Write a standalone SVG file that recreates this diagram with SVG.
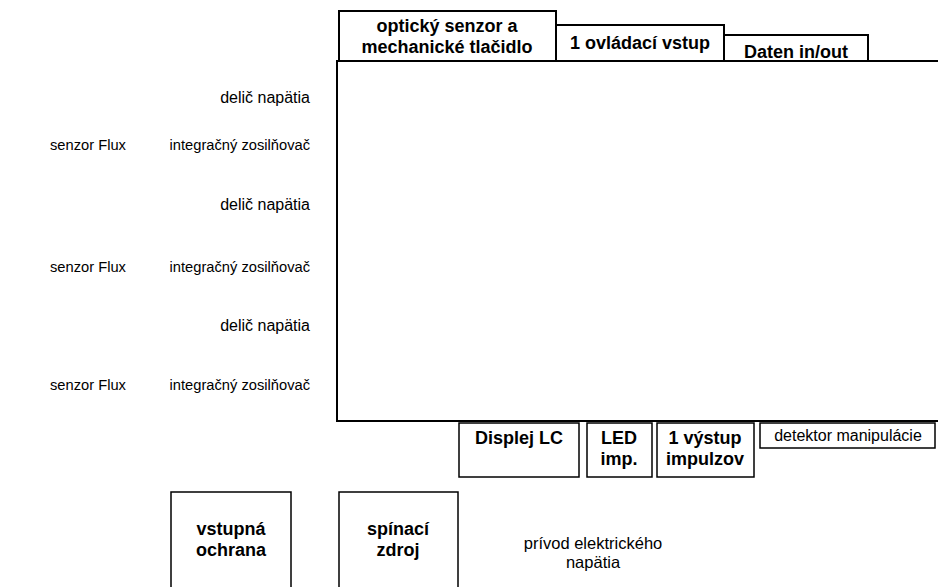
<svg xmlns="http://www.w3.org/2000/svg" width="938" height="587" viewBox="0 0 938 587">
<style>
.box{fill:#fff;stroke:#000;stroke-width:2}
.thin{fill:#fff;stroke:#000;stroke-width:1.5}
.b{font-family:"Liberation Sans",Arial,sans-serif;font-weight:bold;font-size:18px;text-anchor:middle;fill:#000}
.r{font-family:"Liberation Sans",Arial,sans-serif;font-size:14.7px;fill:#000}
.d{font-size:16px}
.m{text-anchor:middle}
.e{text-anchor:end}
</style>
<rect width="938" height="587" fill="#fff"/>
<g id="main"><rect class="box" x="337" y="61" width="610" height="360"/></g>
<g id="optical"><rect class="box" x="339" y="11" width="217" height="50"/><text class="b" x="447" y="32">optický senzor a</text><text class="b" x="447" y="53">mechanické tlačidlo</text></g>
<g id="control-input"><rect class="box" x="556" y="25" width="168" height="36"/><text class="b" x="640" y="49">1 ovládací vstup</text></g>
<g id="data-io"><rect class="box" x="724" y="35" width="144" height="26"/><text class="b" x="796" y="58">Daten in/out</text></g>
<g id="display"><rect class="thin" x="459" y="423" width="120" height="54"/><text class="b" x="519" y="444">Displej LC</text></g>
<g id="led"><rect class="thin" x="587" y="423" width="65" height="54"/><text class="b" x="619" y="444">LED</text><text class="b" x="619" y="465">imp.</text></g>
<g id="pulse-out"><rect class="thin" x="657" y="423" width="97" height="54"/><text class="b" x="705" y="444">1 výstup</text><text class="b" x="705" y="465">impulzov</text></g>
<g id="tamper"><rect class="thin" x="760" y="423" width="175" height="25"/><text class="r d m" x="848" y="441">detektor manipulácie</text></g>
<g id="input-protection"><rect class="thin" x="171" y="492" width="120" height="110"/><text class="b" x="231" y="535">vstupná</text><text class="b" x="231" y="556">ochrana</text></g>
<g id="smps"><rect class="thin" x="339" y="492" width="119" height="110"/><text class="b" x="398" y="535">spínací</text><text class="b" x="398" y="556">zdroj</text></g>
<g id="supply"><text class="r m" style="font-size:16.5px" x="593" y="549">prívod elektrického</text><text class="r m" style="font-size:16.5px" x="593" y="568">napätia</text></g>
<g id="divider1"><text class="r d e" x="310" y="103">delič napätia</text></g>
<g id="sensor1"><text class="r" x="50" y="150">senzor Flux</text></g>
<g id="amp1"><text class="r e" x="310" y="150">integračný zosilňovač</text></g>
<g id="divider2"><text class="r d e" x="310" y="210">delič napätia</text></g>
<g id="sensor2"><text class="r" x="50" y="272">senzor Flux</text></g>
<g id="amp2"><text class="r e" x="310" y="272">integračný zosilňovač</text></g>
<g id="divider3"><text class="r d e" x="310" y="331">delič napätia</text></g>
<g id="sensor3"><text class="r" x="50" y="390">senzor Flux</text></g>
<g id="amp3"><text class="r e" x="310" y="390">integračný zosilňovač</text></g>
<g id="connectors"></g>
</svg>
